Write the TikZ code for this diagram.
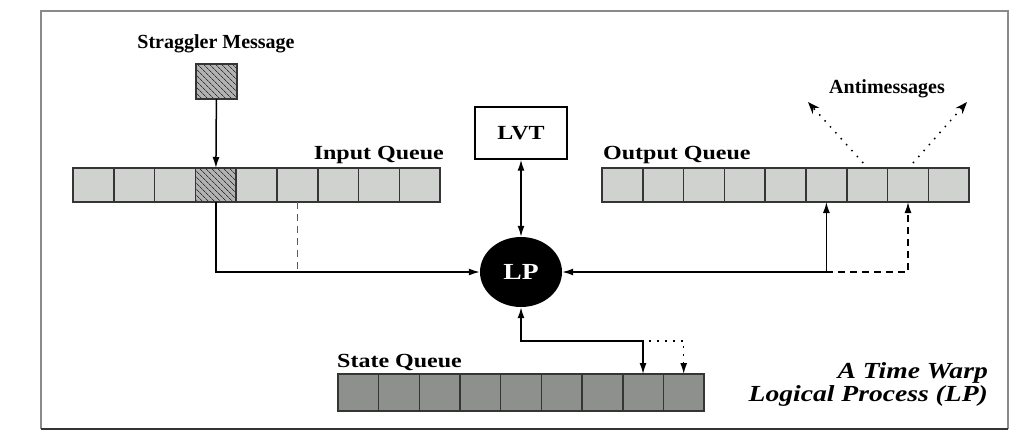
\documentclass[tikz,border=0pt]{standalone}
\usepackage{fontspec}
\setmainfont{Liberation Serif}
\newfontfamily\widefont[FakeStretch=1.2]{Liberation Serif}
\usetikzlibrary{arrows.meta,patterns.meta,shapes.geometric}
\definecolor{qlight}{HTML}{D0D2D0}
\definecolor{qdark}{HTML}{8E908D}
\definecolor{qline}{HTML}{353535}
\definecolor{framegray}{HTML}{8A8A8A}
\tikzset{
	qcell/.style={draw=qline, line width=1.6pt, fill=qlight, minimum width=40.8pt, minimum height=34pt, inner sep=0pt, outer sep=0pt},
	scell/.style={qcell, fill=qdark, minimum width=40.67pt, minimum height=37pt},
	hatched/.style={fill=qlight!85!black, postaction={pattern={Lines[angle=-45,distance=4pt,line width=0.8pt]}, pattern color=qline}},
	qlabel/.style={font=\widefont\bfseries\fontsize{20}{24}\selectfont, inner sep=0pt},
	tag/.style={font=\bfseries\fontsize{20}{24}\selectfont, inner sep=0pt},
	title/.style={font=\widefont\bfseries\itshape\fontsize{23}{27}\selectfont, inner sep=0pt},
	link/.style={line width=1.5pt, -{Latex[length=11pt,width=7pt]}},
	link2/.style={line width=1.5pt, {Latex[length=11pt,width=7pt]}-{Latex[length=11pt,width=7pt]}},
	anti/.style={line width=1.5pt, dash pattern=on 1.5pt off 6.5pt, -{Stealth[length=12pt,width=9pt]}},
}

\begin{document}
\begin{tikzpicture}[x=1pt,y=-1pt]
		%%%%% START %%%%%
		\useasboundingbox (0,0) rectangle (1032,434);
		\draw[framegray, line width=2pt] (41,429) -- (41,11) -- (1008,11) -- (1008,429);
		\draw[qline, line width=2pt] (41,429) -- (1008,429);
		
		% queues
		\foreach \i in {1,...,9} \node[qcell] (iq\i) at ({73+(\i-0.5)*40.8},185) {};
		\node[qcell,hatched] (iq4) at (iq4) {};
		\foreach \i in {1,...,9} \node[qcell] (oq\i) at ({602+(\i-0.5)*40.8},185) {};
		\foreach \i in {1,...,9} \node[scell] (sq\i) at ({338+(\i-0.5)*40.67},392.5) {};
		
		\node[qlabel, anchor=base east] (iql) at (444,159) {Input Queue};
		\node[qlabel, anchor=base west] (oql) at (603,159) {Output Queue};
		\node[qlabel, anchor=base west] (sql) at (337,367) {State Queue};
		
		% straggler
		\node[qcell,hatched, minimum height=35pt] (sm) at (216.5,81.5) {};
		\node[tag, anchor=base] (sml) at (216,48) {Straggler Message};
		
		% LVT and LP
		\node[draw=black, line width=1.4pt, minimum width=92pt, minimum height=52pt, font=\widefont\bfseries\fontsize{20}{24}\selectfont] (lvt) at (521,133) {LVT};
		\node[ellipse, fill=black, minimum width=82pt, minimum height=70pt, inner sep=0pt, text=white, font=\widefont\bfseries\fontsize{23}{27}\selectfont] (lp) at (521,272) {LP};
		
		\draw[link] (sm) -- (iq4);
		\draw[link] (iq4.south) |- (lp);
		\draw[qline!80, line width=1.5pt, dash pattern=on 7pt off 5pt] (iq6.south) -- (iq6.south |- lp);
		\draw[link2] (lvt) -- (lp);
		\draw[link2] (oq6) |- (lp);
		\draw[link, dash pattern=on 7pt off 5pt] (oq6.south |- lp) -| (oq8);
		
		% antimessages
		\coordinate (am1) at (808,102);
		\coordinate (am2) at (967,102);
		\draw[anti] ([xshift=-4pt,yshift=5pt]oq7.north) -- (am1);
		\draw[anti] ([xshift=5pt,yshift=5pt]oq8.north) -- (am2);
		\node[tag, anchor=base] (aml) at (887,93) {Antimessages};
		
		% state saving
		\coordinate (sj) at (521,341);
		\draw[link2] (lp) -- (sj) -| (sq8);
		\draw[line width=1.5pt, dash pattern=on 1.5pt off 6.5pt, -{Latex[length=11pt,width=7pt]}] (sj) -| (sq9);
		
		\node[title, anchor=base east] (t1) at (988,378) {A Time Warp};
		\node[title, anchor=base east] (t2) at (988,401) {Logical Process (LP)};
		%%%%% END %%%%%
\end{tikzpicture}
\end{document}
